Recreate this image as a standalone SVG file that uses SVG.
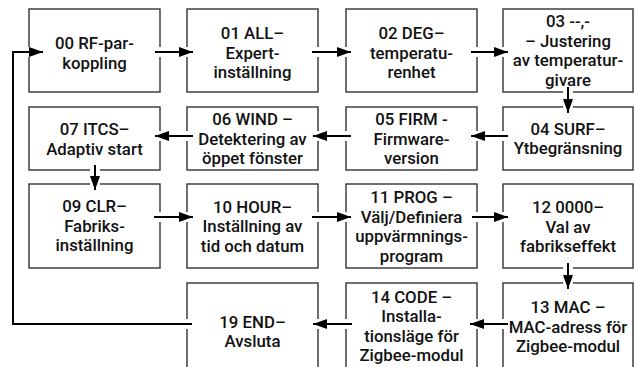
<svg xmlns="http://www.w3.org/2000/svg" width="635" height="367" viewBox="0 0 635 367">
<style>
.box{fill:#fff;stroke:#333;stroke-width:1.4}
text{font-family:Roboto,"Liberation Sans",sans-serif;font-weight:500;font-size:16.8px;fill:#111;text-anchor:middle}
.halo{fill:none;stroke:#fff;stroke-width:10}
.ln{fill:none;stroke:#000;stroke-width:2;marker-end:url(#ah)}
</style>
<defs>
<marker id="ah" markerUnits="userSpaceOnUse" markerWidth="15" markerHeight="11" refX="14" refY="5" orient="auto" overflow="visible">
<path d="M0,0 L14,5 L0,10 Z" fill="#000"/>
</marker>
<path id="c1" d="M155,52 H193"/>
<path id="c2" d="M312,52 H351"/>
<path id="c3" d="M471,52 H508"/>
<path id="c4" d="M568,87 V113"/>
<path id="c5" d="M508,136 H471"/>
<path id="c6" d="M351,136 H313"/>
<path id="c7" d="M193,136 H155"/>
<path id="c8" d="M95,165 V190"/>
<path id="c9" d="M154,217 H193"/>
<path id="c10" d="M312,217 H351"/>
<path id="c11" d="M472,217 H508"/>
<path id="c12" d="M568,263 V289"/>
<path id="c13" d="M508,324 H470"/>
<path id="c14" d="M352,324 H313"/>
<path id="c15" d="M192,324 H13 V52 H43"/>
</defs>
<g id="n00"><rect class="box" x="29" y="9" width="131" height="83"/><text x="94.5"><tspan x="94.5" y="49">00 RF-par-</tspan><tspan x="94.5" y="69">koppling</tspan></text></g>
<g id="n01"><rect class="box" x="187" y="9" width="131" height="83"/><text><tspan x="252.5" y="39">01 ALL–</tspan><tspan x="252.5" y="58.5">Expert-</tspan><tspan x="252.5" y="78">inställning</tspan></text></g>
<g id="n02"><rect class="box" x="346" y="9" width="131" height="83"/><text><tspan x="411.5" y="39">02 DEG–</tspan><tspan x="411.5" y="58.5">temperatu-</tspan><tspan x="411.5" y="78">renhet</tspan></text></g>
<g id="n03"><rect class="box" x="503" y="9" width="130" height="83"/><text><tspan x="568" y="27">03 --,-</tspan><tspan x="568" y="46.5">– Justering</tspan><tspan x="568" y="66">av temperatur-</tspan><tspan x="568" y="85.5">givare</tspan></text></g>
<g id="n04"><rect class="box" x="503" y="107" width="130" height="63"/><text><tspan x="568" y="134.5">04 SURF–</tspan><tspan x="568" y="154">Ytbegränsning</tspan></text></g>
<g id="n05"><rect class="box" x="346" y="107" width="131" height="63"/><text><tspan x="411.5" y="125">05 FIRM -</tspan><tspan x="411.5" y="144.5">Firmware-</tspan><tspan x="411.5" y="164">version</tspan></text></g>
<g id="n06"><rect class="box" x="187" y="107" width="131" height="63"/><text><tspan x="252.5" y="125">06 WIND –</tspan><tspan x="252.5" y="144.5">Detektering av</tspan><tspan x="252.5" y="164">öppet fönster</tspan></text></g>
<g id="n07"><rect class="box" x="29" y="107" width="131" height="63"/><text><tspan x="94.5" y="135">07 ITCS–</tspan><tspan x="94.5" y="154.5">Adaptiv start</tspan></text></g>
<g id="n09"><rect class="box" x="29" y="184" width="131" height="84"/><text><tspan x="94.5" y="212">09 CLR–</tspan><tspan x="94.5" y="231.5">Fabriks-</tspan><tspan x="94.5" y="251">inställning</tspan></text></g>
<g id="n10"><rect class="box" x="187" y="184" width="131" height="84"/><text><tspan x="252.5" y="212.5">10 HOUR–</tspan><tspan x="252.5" y="232">Inställning av</tspan><tspan x="252.5" y="251.5">tid och datum</tspan></text></g>
<g id="n11"><rect class="box" x="346" y="184" width="131" height="84"/><text><tspan x="411.5" y="203">11 PROG –</tspan><tspan x="411.5" y="222.5">Välj/Definiera</tspan><tspan x="411.5" y="242">uppvärmnings-</tspan><tspan x="411.5" y="261.5">program</tspan></text></g>
<g id="n12"><rect class="box" x="503" y="184" width="130" height="84"/><text><tspan x="568" y="213">12 0000–</tspan><tspan x="568" y="232.5">Val av</tspan><tspan x="568" y="252">fabrikseffekt</tspan></text></g>
<g id="n13"><rect class="box" x="503" y="283" width="130" height="95"/><text><tspan x="568" y="313">13 MAC –</tspan><tspan x="568" y="332.5">MAC-adress för</tspan><tspan x="568" y="352">Zigbee-modul</tspan></text></g>
<g id="n14"><rect class="box" x="346" y="283" width="131" height="95"/><text><tspan x="411.5" y="302.5">14 CODE –</tspan><tspan x="411.5" y="322">Installa-</tspan><tspan x="411.5" y="341.5">tionsläge för</tspan><tspan x="411.5" y="361">Zigbee-modul</tspan></text></g>
<g id="n19"><rect class="box" x="187" y="283" width="131" height="95"/><text><tspan x="252.5" y="327.5">19 END–</tspan><tspan x="252.5" y="347">Avsluta</tspan></text></g>
<g id="connectors">
<use href="#c1" class="halo"/><use href="#c1" class="ln"/>
<use href="#c2" class="halo"/><use href="#c2" class="ln"/>
<use href="#c3" class="halo"/><use href="#c3" class="ln"/>
<use href="#c4" class="halo"/><use href="#c4" class="ln"/>
<use href="#c5" class="halo"/><use href="#c5" class="ln"/>
<use href="#c6" class="halo"/><use href="#c6" class="ln"/>
<use href="#c7" class="halo"/><use href="#c7" class="ln"/>
<use href="#c8" class="halo"/><use href="#c8" class="ln"/>
<use href="#c9" class="halo"/><use href="#c9" class="ln"/>
<use href="#c10" class="halo"/><use href="#c10" class="ln"/>
<use href="#c11" class="halo"/><use href="#c11" class="ln"/>
<use href="#c12" class="halo"/><use href="#c12" class="ln"/>
<use href="#c13" class="halo"/><use href="#c13" class="ln"/>
<use href="#c14" class="halo"/><use href="#c14" class="ln"/>
<use href="#c15" class="halo"/><use href="#c15" class="ln"/>
</g>
</svg>
